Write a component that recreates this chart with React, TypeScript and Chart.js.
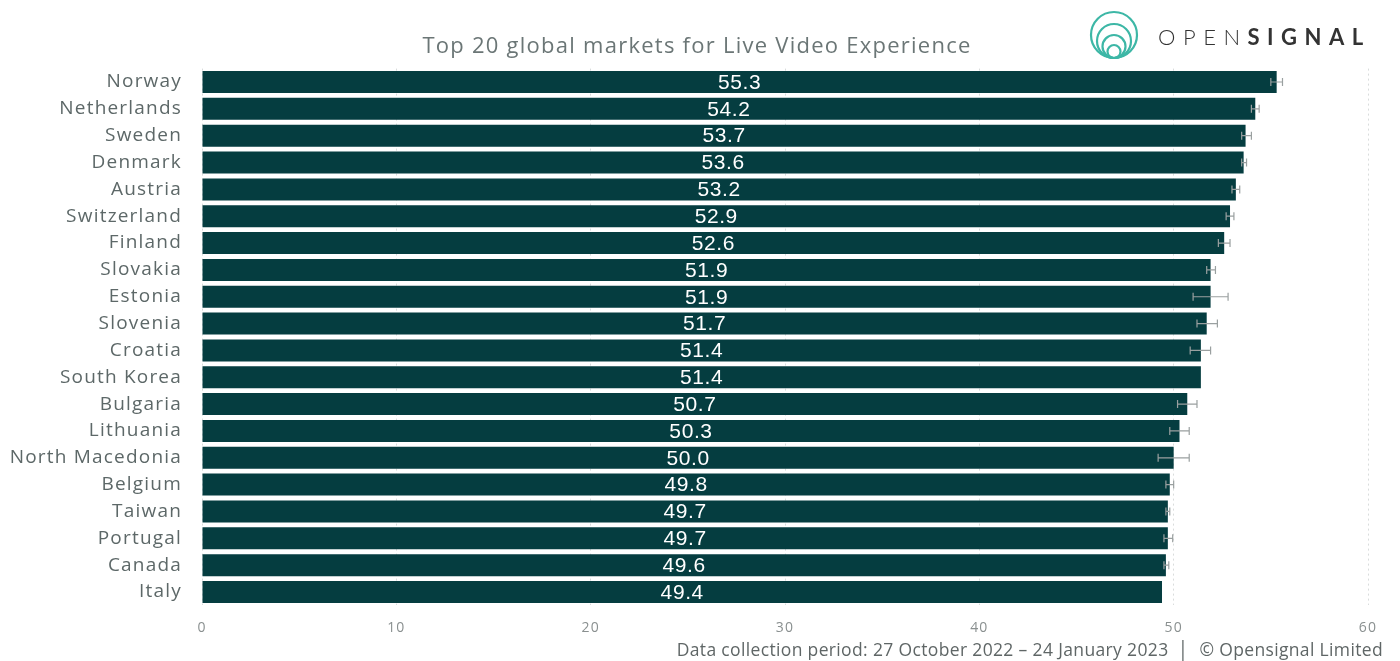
import React, { useEffect, useRef } from "react";
import { Chart, registerables } from "chart.js";

Chart.register(...registerables);

const countries = [
  "Norway", "Netherlands", "Sweden", "Denmark", "Austria", "Switzerland", "Finland",
  "Slovakia", "Estonia", "Slovenia", "Croatia", "South Korea", "Bulgaria", "Lithuania",
  "North Macedonia", "Belgium", "Taiwan", "Portugal", "Canada", "Italy",
];
const scores = [55.3, 54.2, 53.7, 53.6, 53.2, 52.9, 52.6, 51.9, 51.9, 51.7, 51.4, 51.4, 50.7, 50.3, 50.0, 49.8, 49.7, 49.7, 49.6, 49.4];
const lowerCI = [55.0, 54.0, 53.5, 53.5, 53.0, 52.7, 52.3, 51.7, 51.0, 51.2, 50.85, 51.4, 50.2, 49.8, 49.2, 49.6, 49.6, 49.5, 49.5, 49.4];
const upperCI = [55.6, 54.4, 54.0, 53.75, 53.4, 53.1, 52.9, 52.15, 52.8, 52.25, 51.9, 51.4, 51.2, 50.8, 50.8, 50.0, 49.8, 49.95, 49.75, 49.4];
const xTicks = [0, 10, 20, 30, 40, 50, 60];

const titleText = "Top 20 global markets for Live Video Experience";
const footerText = "Data collection period: 27 October 2022 \u2013 24 January 2023  \u2502  \u00A9 Opensignal Limited";

const FONT = "'Open Sans', 'Noto Sans', sans-serif";

const spacingPlugin = {
  id: "spacing",
  beforeDraw(chart: any) {
    (chart.ctx as any).letterSpacing = "1.2px";
  },
};

const overlayPlugin = {
  id: "overlay",
  afterDatasetsDraw(chart: any) {
    const { ctx } = chart;
    const xs = chart.scales.x;
    const meta = chart.getDatasetMeta(0);
    ctx.save();
    // error bars
    ctx.strokeStyle = "#9aa0a0";
    ctx.lineWidth = 1.2;
    meta.data.forEach((bar: any, i: number) => {
      const lo = xs.getPixelForValue(lowerCI[i]);
      const hi = xs.getPixelForValue(upperCI[i]);
      if (hi - lo < 1) return;
      const y = bar.y;
      ctx.beginPath();
      ctx.moveTo(lo, y);
      ctx.lineTo(hi, y);
      ctx.moveTo(lo, y - 4);
      ctx.lineTo(lo, y + 4);
      ctx.moveTo(hi, y - 4);
      ctx.lineTo(hi, y + 4);
      ctx.stroke();
    });
    // value labels
    ctx.fillStyle = "#ffffff";
    ctx.letterSpacing = "0.6px";
    ctx.font = "21px 'Liberation Sans', Arial, sans-serif";
    ctx.textAlign = "center";
    ctx.textBaseline = "middle";
    meta.data.forEach((bar: any, i: number) => {
      const cx = (bar.base + bar.x) / 2;
      ctx.fillText(scores[i].toFixed(1), cx, bar.y + 1);
    });
    // title
    ctx.fillStyle = "#6b7676";
    ctx.letterSpacing = "1.25px";
    ctx.font = "22px " + FONT;
    ctx.textAlign = "center";
    ctx.fillText(titleText, 697, 47);
    // footer
    ctx.fillStyle = "#5f6666";
    ctx.letterSpacing = "0.35px";
    ctx.font = "17.5px " + FONT;
    ctx.textAlign = "right";
    ctx.fillText(footerText, 1383, 651);
    ctx.restore();
  },
};

function Logo() {
  const radii = [23, 17, 11.5, 6.5];
  return (
    <div style={{ position: "absolute", left: 1088, top: 10, height: 52, display: "flex", alignItems: "center" }}>
      <svg width="52" height="52" viewBox="0 0 52 52">
        {radii.map((r) => (
          <circle key={r} cx={26} cy={48 - r} r={r} fill="none" stroke="#3db7a6" strokeWidth={2.2} />
        ))}
      </svg>
      <span style={{ marginLeft: 18, fontFamily: "Lato, sans-serif", fontSize: 22, letterSpacing: 7.5, color: "#333" }}>
        <span style={{ fontWeight: 300 }}>OPEN</span>
        <span style={{ fontWeight: 700 }}>SIGNAL</span>
      </span>
    </div>
  );
}

export default function App() {
  const ref = useRef<HTMLCanvasElement>(null);
  useEffect(() => {
    document.body.style.margin = "0";
    const chart = new Chart(ref.current!, {
      type: "bar",
      data: {
        labels: countries,
        datasets: [
          {
            data: scores,
            backgroundColor: "#053d40",
            categoryPercentage: 1,
            barPercentage: 0.82,
          },
        ],
      },
      options: {
        indexAxis: "y",
        animation: false,
        responsive: false,
        maintainAspectRatio: false,
        layout: { padding: { top: 68.6, right: 32, bottom: 0, left: 0 } },
        plugins: { legend: { display: false }, tooltip: { enabled: false } },
        scales: {
          x: {
            min: 0,
            max: 60,
            afterFit: (s: any) => { s.height = 55.6; },
            afterBuildTicks: (s: any) => { s.ticks = xTicks.map((v) => ({ value: v })); },
            grid: { color: "#d9dcdc", drawTicks: false, lineWidth: 1 },
            border: { display: false, dash: [2, 3] },
            ticks: { color: "#8a9090", font: { family: FONT, size: 14 }, padding: 14 },
          },
          y: {
            afterFit: (s: any) => { s.width = 202; },
            grid: { display: false, drawTicks: false },
            border: { display: false },
            ticks: { color: "#5d6868", font: { family: FONT, size: 19 }, padding: 20, autoSkip: false },
          },
        },
      },
      plugins: [spacingPlugin, overlayPlugin],
    });
    return () => chart.destroy();
  }, []);
  return (
    <div style={{ position: "relative", width: 1400, height: 661, background: "#fff" }}>
      <canvas ref={ref} width={1400} height={661} style={{ display: "block" }} />
      <Logo />
    </div>
  );
}
